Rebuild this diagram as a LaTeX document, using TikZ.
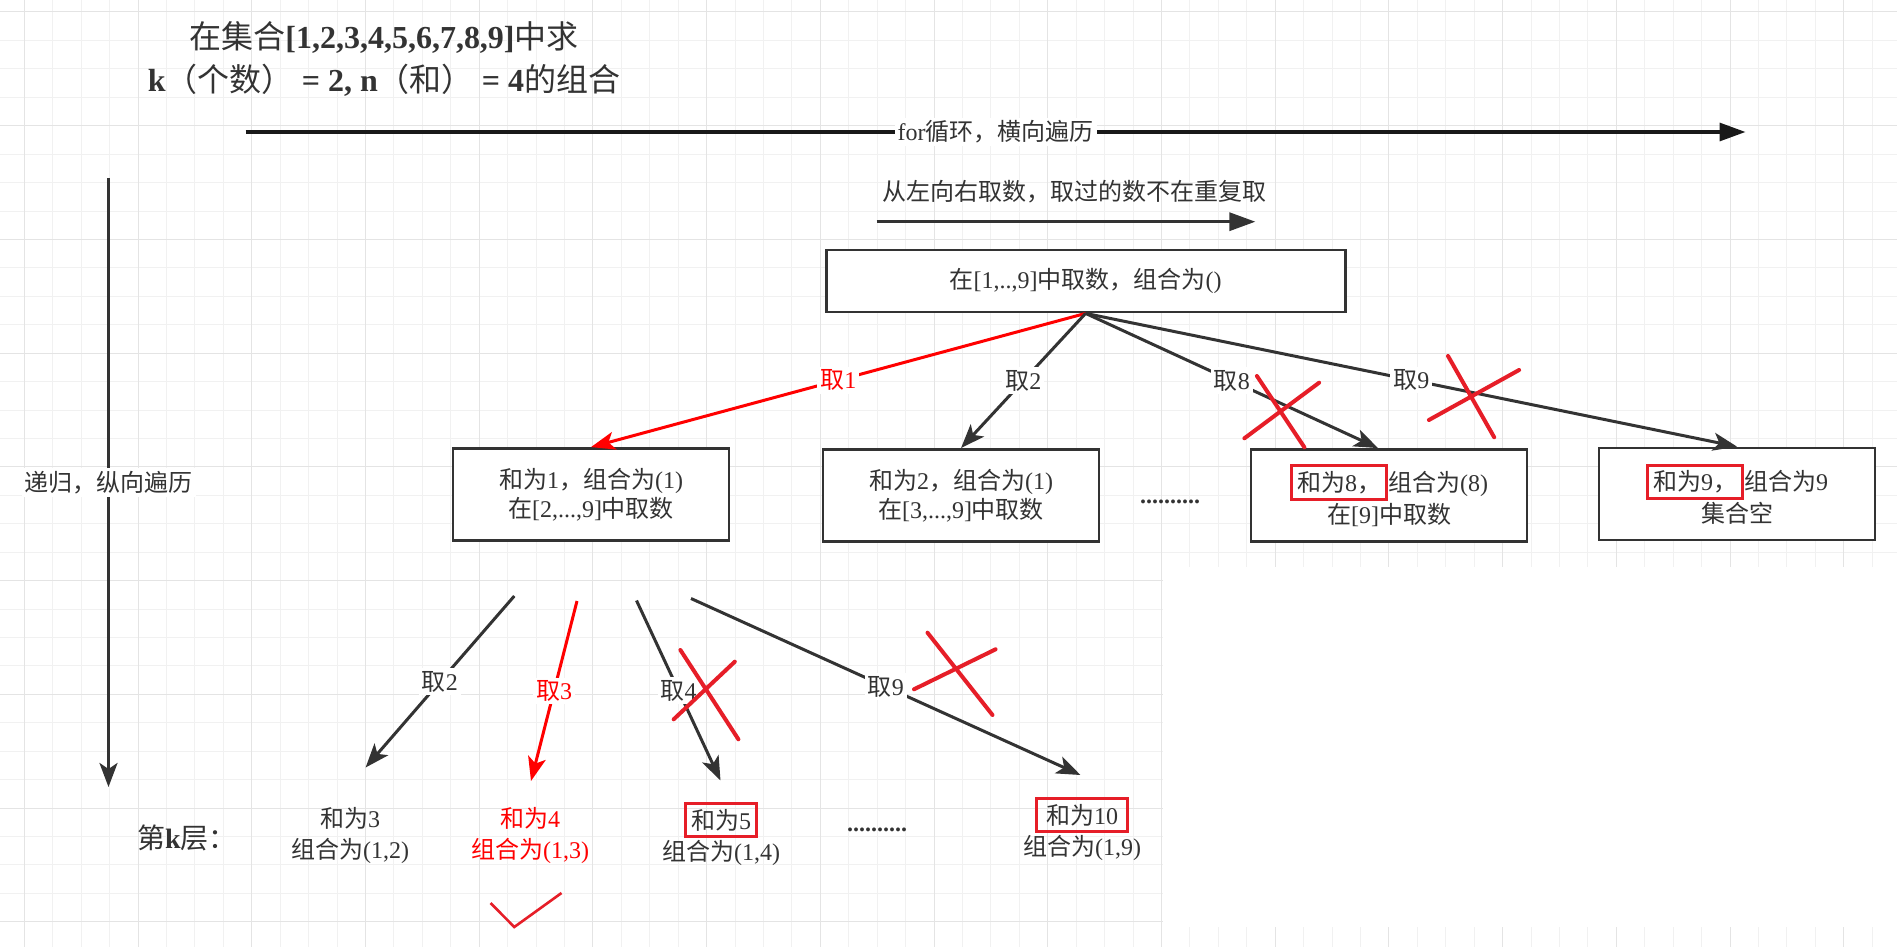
\documentclass[tikz,border=0pt]{standalone}
\usepackage{fontspec}
\usepackage{xcolor}
\usepackage{tikz}
\usetikzlibrary{arrows.meta, positioning}
\setmainfont{Liberation Serif}
\newfontfamily\zhfont{Noto Sans CJK SC}
\newcommand{\zh}[1]{{\mdseries\zhfont #1}}

\definecolor{inkgray}{RGB}{51, 51, 51}
\definecolor{pickred}{RGB}{255, 0, 0}
\definecolor{markred}{RGB}{230, 30, 40}
\definecolor{gridminor}{RGB}{241, 241, 241}
\definecolor{gridmajor}{RGB}{228, 228, 228}
\newcommand{\redbox}[1]{{\fboxrule=1.5pt\fboxsep=2pt\color{markred}\fbox{\color{inkgray}#1}}}

\begin{document}
\begin{tikzpicture}[x=0.5pt, y=-0.5pt,
			box/.style={rectangle, draw=inkgray, line width=1.4pt, fill=white, minimum width=138pt, minimum height=46pt, align=center, text=inkgray, font=\fontsize{12}{14.5}\selectfont},
			leaf/.style={align=center, text=inkgray, font=\fontsize{12}{15.5}\selectfont},
			tag/.style={fill=white, inner sep=1.5pt, text=inkgray, font=\fontsize{12}{14}\selectfont},
			link/.style={-{Stealth[length=12pt, width=9pt, inset=3pt]}, line width=1.5pt, draw=inkgray},
			flow/.style={-{Triangle[length=13pt, width=9pt]}, line width=1.6pt, draw=inkgray},
			cross/.style={draw=markred, line width=2pt, line cap=round}
		]
		\useasboundingbox (0,0) rectangle (1897,947);
		\fill[white] (0,0) rectangle (1897,947);
		
		% background grid
		\foreach \i in {0,...,65} \draw[gridminor, line width=0.5pt] ({24.3+28.43*\i},0) -- ({24.3+28.43*\i},947);
		\foreach \j in {0,...,33} \draw[gridminor, line width=0.5pt] (0,{12+28.43*\j}) -- (1897,{12+28.43*\j});
		\foreach \i in {0,4,...,64} \draw[gridmajor, line width=0.5pt] ({24.3+28.43*\i},0) -- ({24.3+28.43*\i},947);
		\foreach \j in {0,4,...,32} \draw[gridmajor, line width=0.5pt] (0,{12+28.43*\j}) -- (1897,{12+28.43*\j});
		\fill[white] (1163,567) rectangle (1897,927);
		
		\node[font=\fontsize{16}{21.5}\selectfont\bfseries, text=inkgray, align=center] (title) at (384,59) {\zh{在集合}[1,2,3,4,5,6,7,8,9]\zh{中求}\\k\zh{（个数）} = 2, n\zh{（和）} = 4\zh{的组合}};
		
		% loop direction and recursion direction
		\coordinate (forL) at (245.6,132);
		\coordinate (forR) at (1745.5,132);
		\draw[flow, draw=black!90] (forL) -- node[tag] {for\zh{循环，横向遍历}} (forR);
		\coordinate (recT) at (108.5,178);
		\coordinate (recB) at (108.5,787);
		\draw[link] (recT) -- node[tag] {\zh{递归，纵向遍历}} (recB);
		
		\node[text=inkgray, font=\fontsize{12}{14}\selectfont] (ltr) at (1074,192) {\zh{从左向右取数，取过的数不在重复取}};
		\coordinate (ltrL) at (876.5,221.7);
		\coordinate (ltrR) at (1255.4,221.7);
		\draw[flow] (ltrL) -- (ltrR);
		
		% first level
		\node[box, minimum width=259.5pt, minimum height=31pt] (root) at (1085.6,281) {\zh{在}[1,..,9]\zh{中取数，组合为}()};
		\node[box] (sum1) at (591,494.5) {\zh{和为}1\zh{，组合为}(1)\\\zh{在}[2,...,9]\zh{中取数}};
		\node[box] (sum2) at (961,495.5) {\zh{和为}2\zh{，组合为}(1)\\\zh{在}[3,...,9]\zh{中取数}};
		\node[box] (sum8) at (1389,495.5) {\redbox{\zh{和为}8\zh{，}}\zh{组合为}(8)\\\zh{在}[9]\zh{中取数}};
		\node[box] (sum9) at (1737,494) {\redbox{\zh{和为}9\zh{，}}\zh{组合为}9\\\zh{集合空}};
		\node[text=inkgray, font=\fontsize{12}{14}\selectfont\bfseries, anchor=base] (gap1) at (1170,503) {..........};
		
		\draw[link, draw=pickred] (root.south) -- node[tag, text=pickred] {\zh{取}1} (sum1.north);
		\draw[link] (root.south) -- node[tag] {\zh{取}2} (sum2.north);
		\draw[link] (root.south) -- node[tag] {\zh{取}8} ([xshift=-5.5pt]sum8.north);
		\draw[link] (root.south) -- node[tag] {\zh{取}9} (sum9.north);
		\draw[cross] (1244.4,438.3) -- (1319.1,382.7) (1256.9,376) -- (1304.4,447.3);
		\draw[cross] (1428.9,420) -- (1519.1,370) (1448,356) -- (1494.2,437.3);
		
		% k-th level
		\node[text=inkgray, font=\fontsize{14}{16}\selectfont] (layer) at (187,838) {\zh{第}\textbf{k}\zh{层：}};
		\node[leaf] (leaf3) at (350,835.5) {\zh{和为}3\\\zh{组合为}(1,2)};
		\node[leaf, text=pickred] (leaf4) at (530,835.5) {\zh{和为}4\\\zh{组合为}(1,3)};
		\node[leaf] (leaf5) at (721,834) {\redbox{\zh{和为}5}\\\zh{组合为}(1,4)};
		\node[leaf] (leaf10) at (1082,829) {\redbox{\,\zh{和为}10\,}\\\zh{组合为}(1,9)};
		\node[text=inkgray, font=\fontsize{12}{14}\selectfont\bfseries, anchor=base] (gap2) at (877,831) {..........};
		
		\coordinate (from2) at (514.3,596);
		\coordinate (to2) at (365.6,767.5);
		\coordinate (from3) at (577,601);
		\coordinate (to3) at (531,781);
		\coordinate (from4) at (636.5,600.5);
		\coordinate (to4) at (720.5,780.5);
		\coordinate (from9) at (691,598.5);
		\coordinate (to9) at (1080.5,775);
		\draw[link] (from2) -- node[tag] {\zh{取}2} (to2);
		\draw[link, draw=pickred] (from3) -- node[tag, text=pickred] {\zh{取}3} (to3);
		\draw[link] (from4) -- node[tag] {\zh{取}4} (to4);
		\draw[link] (from9) -- node[tag] {\zh{取}9} (to9);
		\draw[cross] (680.4,650) -- (738.4,739.3) (673.7,719.3) -- (734.8,661.7);
		\draw[cross] (927.5,632.7) -- (992.5,715) (914,689.3) -- (995.6,649.3);
		
		\draw[markred, line width=1.3pt] (490.5,903) -- (514.3,927) -- (561.5,893);
		\end{tikzpicture}
\end{document}
